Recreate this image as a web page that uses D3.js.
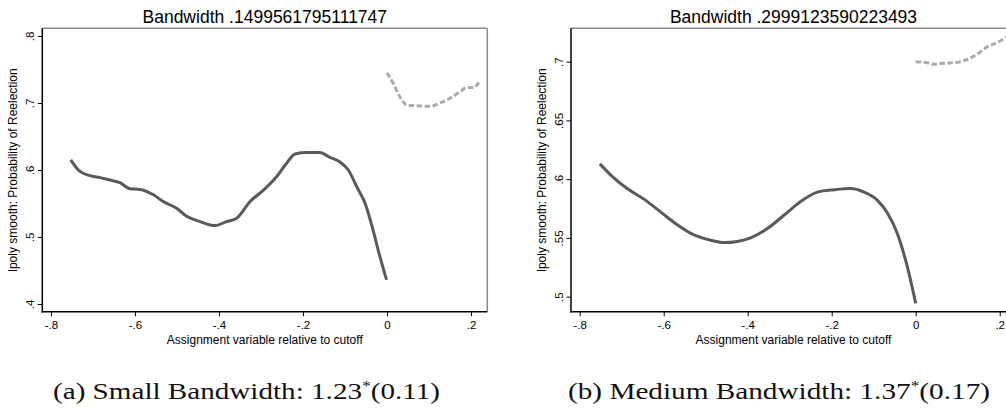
<!DOCTYPE html>
<html>
<head>
<meta charset="utf-8">
<script src="https://cdn.jsdelivr.net/npm/d3@7"></script>
<style>
  body { margin: 0; background: #fff; }
  svg { display: block; }
  .axis text { font-family: "Liberation Sans", Arial, sans-serif; font-size: 11.5px; fill: #000; }
  .axis line { stroke: #000; stroke-width: 1; }
  .title { font-family: "Liberation Sans", Arial, sans-serif; font-size: 17.5px; fill: #000; }
  .axis-title { font-family: "Liberation Sans", Arial, sans-serif; font-size: 12px; fill: #000; }
  .caption { font-family: "Liberation Serif", "Times New Roman", serif; font-size: 23.5px; fill: #111; }
</style>
</head>
<body>
<svg id="fig" width="1006" height="410"></svg>
<script>
// ---- data ----
var xTicks = [-0.8, -0.6, -0.4, -0.2, 0, 0.2];

var smallTitle = 'Bandwidth .1499561795111747';
var smallCaption = ['(a) Small Bandwidth: 1.23', '*', '(0.11)'];
var smallYTicks = [0.4, 0.5, 0.6, 0.7, 0.8];
var smallBelow = [
  [-0.753, 0.615], [-0.735, 0.600], [-0.707, 0.5915], [-0.683, 0.5886], [-0.660, 0.585],
  [-0.636, 0.581], [-0.612, 0.572], [-0.588, 0.571], [-0.556, 0.563], [-0.533, 0.553],
  [-0.501, 0.543], [-0.477, 0.531], [-0.445, 0.523], [-0.410, 0.517], [-0.382, 0.523],
  [-0.358, 0.528], [-0.326, 0.553], [-0.294, 0.570], [-0.263, 0.590], [-0.239, 0.610],
  [-0.219, 0.624], [-0.191, 0.626], [-0.160, 0.626], [-0.136, 0.619], [-0.112, 0.612],
  [-0.092, 0.600], [-0.072, 0.575], [-0.052, 0.550], [-0.033, 0.510], [-0.017, 0.471],
  [-0.001, 0.436]
];
var smallAbove = [
  [0.000, 0.745], [0.015, 0.729], [0.031, 0.709], [0.047, 0.697], [0.071, 0.696],
  [0.102, 0.695], [0.126, 0.700], [0.150, 0.707], [0.174, 0.717], [0.190, 0.723],
  [0.206, 0.723], [0.221, 0.733]
];

var mediumTitle = 'Bandwidth .2999123590223493';
var mediumCaption = ['(b) Medium Bandwidth: 1.37', '*', '(0.17)'];
var mediumYTicks = [0.5, 0.55, 0.6, 0.65, 0.7];
var mediumBelow = [
  [-0.752, 0.613], [-0.726, 0.6035], [-0.687, 0.592], [-0.647, 0.583], [-0.607, 0.572],
  [-0.567, 0.561], [-0.528, 0.5525], [-0.488, 0.548], [-0.456, 0.546], [-0.425, 0.547],
  [-0.393, 0.550], [-0.353, 0.558], [-0.313, 0.5695], [-0.274, 0.581], [-0.234, 0.589],
  [-0.194, 0.591], [-0.155, 0.592], [-0.123, 0.589], [-0.091, 0.582], [-0.067, 0.571],
  [-0.044, 0.554], [-0.020, 0.5255], [0.000, 0.4943]
];
var mediumAbove = [
  [0.000, 0.700], [0.028, 0.699], [0.044, 0.6977], [0.067, 0.6986], [0.099, 0.6994],
  [0.123, 0.702], [0.147, 0.7065], [0.171, 0.7128], [0.194, 0.7162], [0.217, 0.7207],
  [0.222, 0.7215]
];

var xLabel = 'Assignment variable relative to cutoff';
var yLabel = 'lpoly smooth: Probability of Reelection';

// ---- drawing ----
var svg = d3.select('#fig');

function stataFormat(d) {
  if (d === 0) return '0';
  return String(d).replace('0.', '.');
}

function drawPanel(opts) {
  var g = svg.append('g');
  var x = d3.scaleLinear().domain([-0.8207, 0.2388]).range([opts.left, opts.left + 445]);
  var y = d3.scaleLinear().domain(opts.yDomain).range([311.7, 28.3]);

  // frame: top/right in grey, axes in black
  g.append('line').attr('x1', x.range()[0]).attr('x2', x.range()[1])
    .attr('y1', 28.3).attr('y2', 28.3).attr('stroke', '#8a8a8a').attr('stroke-width', 1.5);
  g.append('line').attr('x1', x.range()[1]).attr('x2', x.range()[1])
    .attr('y1', 28.3).attr('y2', 311.7).attr('stroke', '#8a8a8a').attr('stroke-width', 1.5);

  var xAxis = g.append('g').attr('class', 'axis')
    .attr('transform', 'translate(0,311.7)')
    .call(d3.axisBottom(x).tickValues(xTicks).tickFormat(stataFormat)
      .tickSize(4.5).tickSizeOuter(0).tickPadding(5));
  xAxis.select('.domain').remove();

  var yAxis = g.append('g').attr('class', 'axis')
    .attr('transform', 'translate(' + opts.left + ',0)')
    .call(d3.axisLeft(y).tickValues(opts.yTicks).tickFormat(stataFormat)
      .tickSize(4.5).tickSizeOuter(0));
  yAxis.select('.domain').remove();
  yAxis.selectAll('text')
    .attr('x', null).attr('dy', null)
    .attr('text-anchor', 'middle')
    .attr('transform', 'translate(-8.5,0) rotate(-90)');

  g.append('line').attr('x1', opts.left).attr('x2', opts.left)
    .attr('y1', 28.3).attr('y2', 312.4).attr('stroke', '#000').attr('stroke-width', 1.5);
  g.append('line').attr('x1', opts.left - 0.7).attr('x2', x.range()[1])
    .attr('y1', 311.7).attr('y2', 311.7).attr('stroke', '#000').attr('stroke-width', 1.5);

  var line = d3.line()
    .x(function (d) { return x(d[0]); })
    .y(function (d) { return y(d[1]); })
    .curve(d3.curveMonotoneX);

  g.append('path').datum(opts.below)
    .attr('d', line).attr('fill', 'none')
    .attr('stroke', '#5a5a5a').attr('stroke-width', 3)
    .attr('stroke-linejoin', 'round');

  g.append('path').datum(opts.above)
    .attr('d', line).attr('fill', 'none')
    .attr('stroke', '#ababab').attr('stroke-width', 3)
    .attr('stroke-dasharray', '5.5,2.5');

  var mid = (opts.left + x(0.2388)) / 2;
  g.append('text').attr('class', 'title')
    .attr('x', mid).attr('y', 22.5).attr('text-anchor', 'middle')
    .text(opts.title);

  g.append('text').attr('class', 'axis-title')
    .attr('x', mid).attr('y', 344).attr('text-anchor', 'middle')
    .text(xLabel);

  g.append('text').attr('class', 'axis-title')
    .attr('text-anchor', 'middle')
    .attr('transform', 'translate(' + (opts.left - 25.5) + ',170) rotate(-90)')
    .text(yLabel);

  var cap = g.append('text').attr('class', 'caption')
    .attr('x', opts.capX).attr('y', 399);
  cap.append('tspan').text(opts.caption[0]);
  cap.append('tspan').attr('dy', -8).attr('font-size', '14px').text(opts.caption[1]);
  cap.append('tspan').attr('dy', 8).text(opts.caption[2]);
  cap.attr('textLength', opts.capW).attr('lengthAdjust', 'spacingAndGlyphs');
}

drawPanel({
  left: 42.3, yDomain: [0.3885, 0.8115], yTicks: smallYTicks,
  below: smallBelow, above: smallAbove, title: smallTitle,
  caption: smallCaption, capX: 53, capW: 387
});

drawPanel({
  left: 571, yDomain: [0.4872, 0.7284], yTicks: mediumYTicks,
  below: mediumBelow, above: mediumAbove, title: mediumTitle,
  caption: mediumCaption, capX: 568, capW: 422
});
</script>
</body>
</html>
